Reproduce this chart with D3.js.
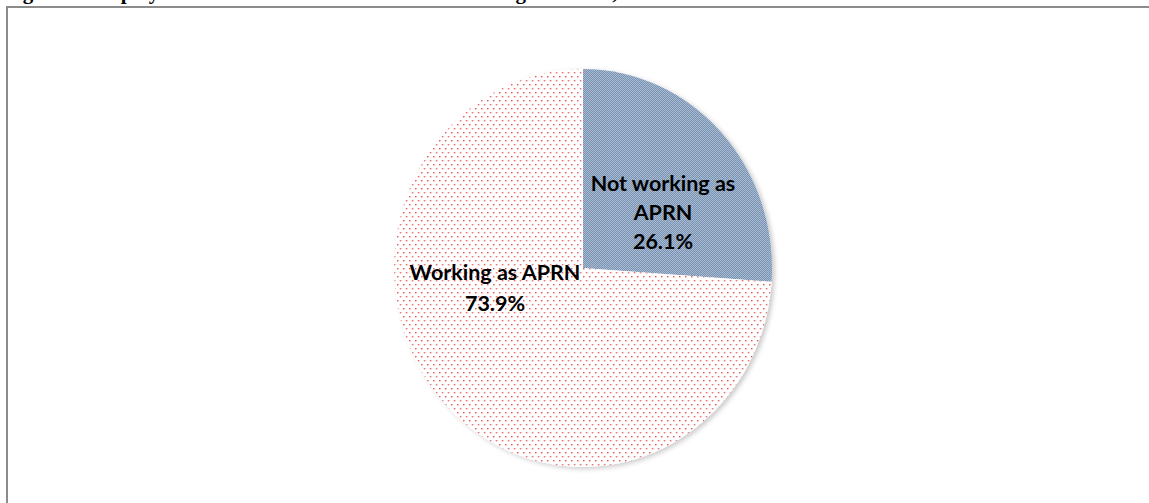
<!DOCTYPE html>
<html><head><meta charset="utf-8">
<script src="https://cdn.jsdelivr.net/npm/d3@7"></script>
<style>html,body{margin:0;padding:0;background:#fff;overflow:hidden}</style>
</head><body>
<script>
const categories = ["Not working as APRN", "Working as APRN"];
const values = [26.1, 73.9];
const labelLines = [["Not working as", "APRN", "26.1%"], ["Working as APRN", "73.9%"]];
const titleText = "Figure 5. Employment Status of APRN Licensees Working as APRN, 2015";

const W = 1149, H = 503;
const svg = d3.select("body").append("svg").attr("width", W).attr("height", H);
const defs = svg.append("defs");

const cx = 583, cy = 268, ry = 199, rx = 189;
const sx = rx / ry;

const p1 = defs.append("pattern").attr("id","blueHatch").attr("patternUnits","userSpaceOnUse")
  .attr("width",2).attr("height",2).attr("patternTransform",`scale(${1/sx},1)`);
p1.append("rect").attr("width",2).attr("height",2).attr("fill","#b2c2d5");
p1.append("rect").attr("width",1).attr("height",1).attr("fill","#6f8cb0");
p1.append("rect").attr("x",1).attr("y",1).attr("width",1).attr("height",1).attr("fill","#6f8cb0");

const p2 = defs.append("pattern").attr("id","redDots").attr("patternUnits","userSpaceOnUse")
  .attr("width",6).attr("height",8).attr("patternTransform",`scale(${1/sx},1)`);
p2.append("rect").attr("width",6).attr("height",8).attr("fill","#ffffff");
p2.append("rect").attr("x",0).attr("y",0).attr("width",1.4).attr("height",1.4).attr("fill","#e25555");
p2.append("rect").attr("x",3).attr("y",4).attr("width",1.4).attr("height",1.4).attr("fill","#e25555");

const f = defs.append("filter").attr("id","shadow").attr("x","-10%").attr("y","-10%").attr("width","120%").attr("height","120%");
f.append("feDropShadow").attr("dx",3).attr("dy",2).attr("stdDeviation",2.5).attr("flood-color","#000").attr("flood-opacity",0.2);

// title (cut off at top edge, as in the reference: only descenders show)
svg.append("text").attr("x",4).attr("y",-1.5)
  .attr("font-family","Liberation Serif").attr("font-weight","bold").attr("font-size",21)
  .attr("fill","#000").text(titleText);

// frame
svg.append("rect").attr("x",7).attr("y",7).attr("width",W+20).attr("height",H+20)
  .attr("fill","none").attr("stroke","#8c8c8c").attr("stroke-width",2);

const g = svg.append("g").attr("transform", `translate(${cx},${cy}) scale(${sx},1)`);
const pie = d3.pie().sort(null).value(d => d)(values);
const arc = d3.arc().innerRadius(0).outerRadius(ry);
const fills = ["url(#blueHatch)", "url(#redDots)"];
const gp = g.append("g").attr("filter","url(#shadow)");
gp.selectAll("path").data(pie).join("path").attr("d", arc).attr("fill", (d,i) => fills[i]);

// labels
const labelPos = [[663, 191, 29], [495, 280, 31]];
labelLines.forEach((lines, i) => {
  const [x, y0, lh] = labelPos[i];
  const t = svg.append("text").attr("text-anchor","middle")
    .attr("font-family","Lato").attr("font-weight","bold").attr("font-size",21.5).attr("fill","#000");
  lines.forEach((ln, j) => t.append("tspan").attr("x", x).attr("y", y0 + j*lh).text(ln));
});
</script>
</body></html>
